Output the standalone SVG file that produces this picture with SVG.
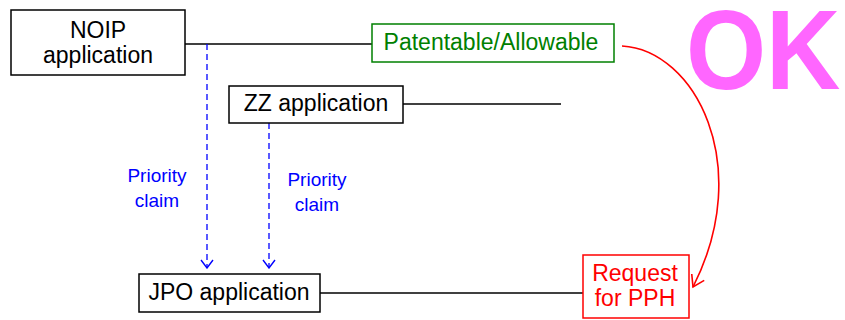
<svg xmlns="http://www.w3.org/2000/svg" width="845" height="320" viewBox="0 0 845 320">
<defs>
<style>
text{font-family:"Liberation Sans",Arial,sans-serif;font-size:23px;text-anchor:middle}
.box{fill:#fff;stroke:#000;stroke-width:1.5}
.ln{stroke:#000;stroke-width:1.5;fill:none}
.dash{stroke:#0000ff;stroke-width:1.3;stroke-dasharray:6,4;fill:none}
.blue{fill:#0000ff;font-size:19px}
</style>
<marker id="ab" markerWidth="10" markerHeight="14" refX="9" refY="7" orient="auto" markerUnits="userSpaceOnUse" viewBox="0 0 10 14">
<path d="M1,1 L9,7 L1,13" fill="none" stroke="#0000ff" stroke-width="1.4"/>
</marker>
<marker id="ar" markerWidth="14" markerHeight="16" refX="12" refY="8" orient="auto" markerUnits="userSpaceOnUse" viewBox="0 0 14 16">
<path d="M1,1 L12,8 L1,15" fill="none" stroke="#ff0000" stroke-width="1.6"/>
</marker>
</defs>
<g id="connectors">
<path class="ln" d="M185,44 H372"/>
<path class="ln" d="M403,104 H561"/>
<path class="ln" d="M320,293 H583"/>
<path class="dash" d="M207,44 V268" marker-end="url(#ab)"/>
<path class="dash" d="M269,123 V268" marker-end="url(#ab)"/>
<path d="M622,46 C695,50 755,165 693,287" fill="none" stroke="#ff0000" stroke-width="1.6" marker-end="url(#ar)"/>
<text class="blue" x="157" y="182">Priority</text>
<text class="blue" x="157" y="207">claim</text>
<text class="blue" x="317" y="186">Priority</text>
<text class="blue" x="317" y="211">claim</text>
</g>
<g id="noip">
<rect class="box" x="11" y="10" width="174" height="65"/>
<text x="98" y="38">NOIP</text>
<text x="98" y="63">application</text>
</g>
<g id="patentable">
<rect x="372" y="24" width="242" height="38" fill="#fff" stroke="#008000" stroke-width="1.5"/>
<text x="491" y="50" fill="#008000">Patentable/Allowable</text>
</g>
<g id="zz">
<rect class="box" x="229" y="86" width="174" height="37"/>
<text x="316" y="111">ZZ application</text>
</g>
<g id="jpo">
<rect class="box" x="139" y="274" width="181" height="38"/>
<text x="229" y="300">JPO application</text>
</g>
<g id="pph">
<rect x="583" y="255" width="106" height="63" fill="#fff" stroke="#ff0000" stroke-width="1.5"/>
<text x="635" y="281" fill="#ff0000">Request</text>
<text x="635" y="306" fill="#ff0000">for PPH</text>
</g>
<g id="ok">
<text transform="translate(686,89) scale(1,1.1)" x="0" y="0" style="font-size:103px;font-weight:bold;fill:#ff66ff;text-anchor:start">OK</text>
</g>
</svg>
